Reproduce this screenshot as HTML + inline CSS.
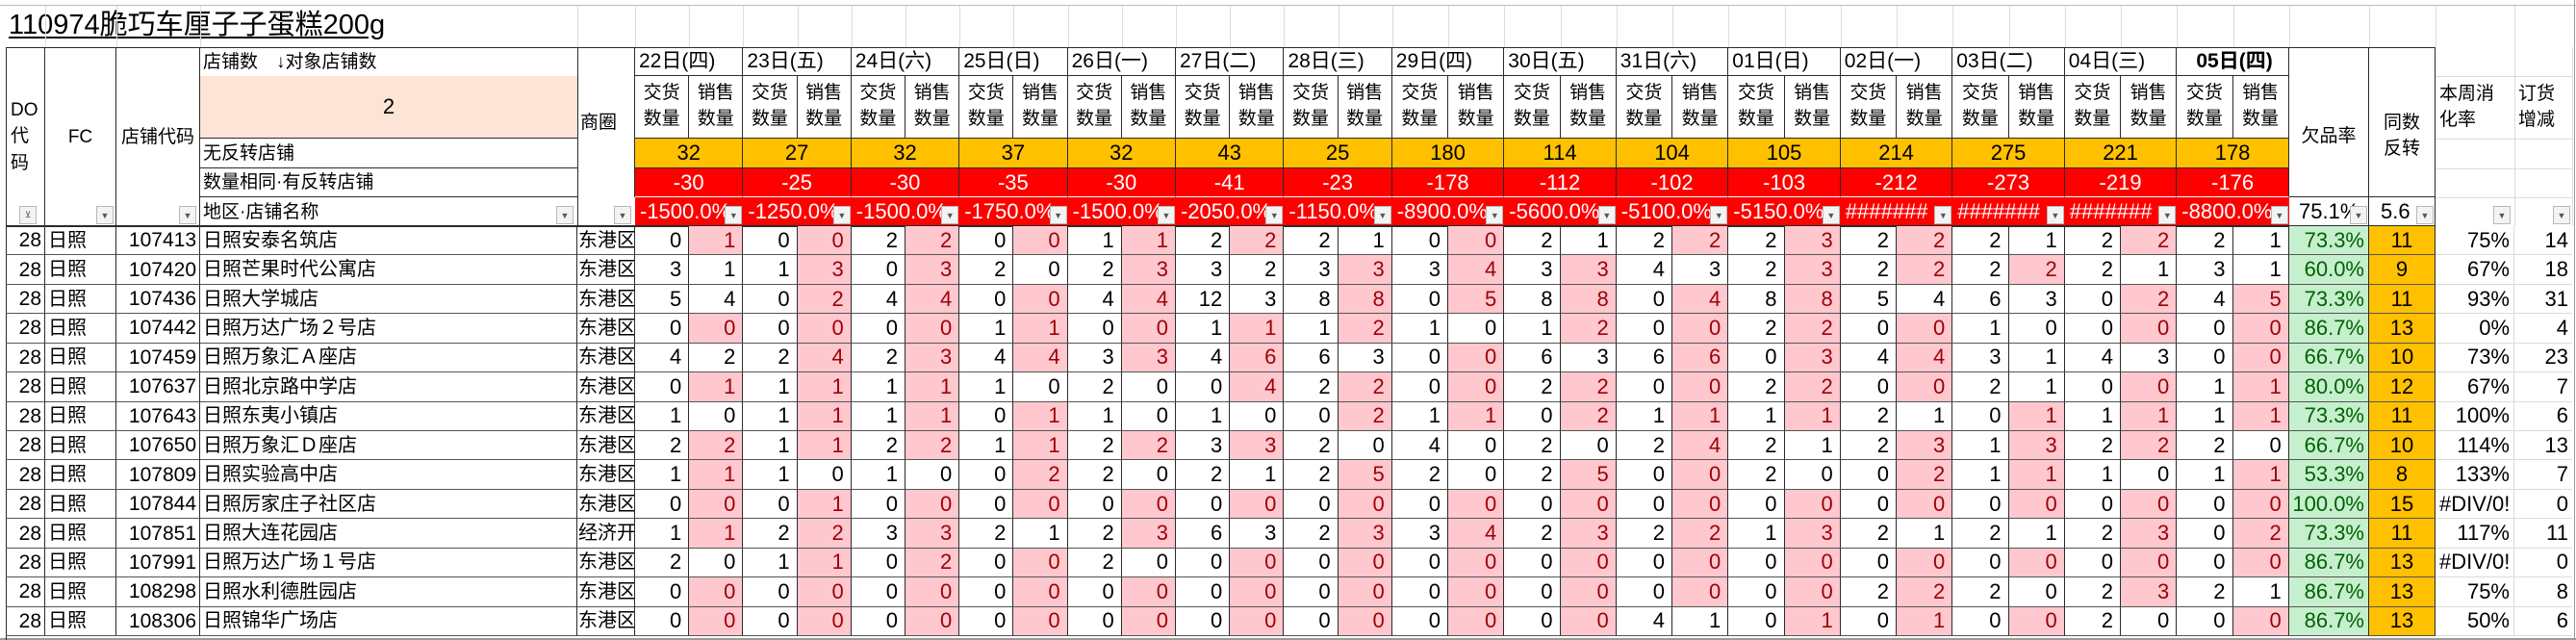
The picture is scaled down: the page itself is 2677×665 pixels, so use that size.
<!DOCTYPE html>
<html><head><meta charset="utf-8">
<style>
html,body{margin:0;padding:0;background:#fff;}
#sheet{position:relative;width:2677px;height:665px;overflow:hidden;background:#fff;
font-family:"Liberation Sans","Noto Sans CJK SC",sans-serif;font-size:19px;color:#000;}
.c{position:absolute;box-sizing:border-box;display:flex;align-items:center;white-space:nowrap;overflow:hidden;line-height:1;}
.ln{position:absolute;}
.dd{position:absolute;box-sizing:border-box;width:18px;height:19px;background:#f3f3f3;border:1px solid #b8b8b8;
font-size:9px;color:#555;display:flex;align-items:center;justify-content:center;}
</style></head>
<body>
<div id="sheet">
  <div class="c" style="left:9px;top:8px;height:36px;font-size:29px;text-decoration:underline;text-underline-offset:3px;">110974脆巧车厘子子蛋糕200g</div>
</div>
<script>
const dayLabels=["22日(四)","23日(五)","24日(六)","25日(日)","26日(一)","27日(二)","28日(三)","29日(四)","30日(五)","31日(六)","01日(日)","02日(一)","03日(二)","04日(三)","05日(四)"];
const noReverse=[32,27,32,37,32,43,25,180,114,104,105,214,275,221,178];
const sameQty=[-30,-25,-30,-35,-30,-41,-23,-178,-112,-102,-103,-212,-273,-219,-176];
const pctLabels=["-1500.0%","-1250.0%","-1500.0%","-1750.0%","-1500.0%","-2050.0%","-1150.0%","-8900.0%","-5600.0%","-5100.0%","-5150.0%","#######","#######","#######","-8800.0%"];
const storeCodes=["107413","107420","107436","107442","107459","107637","107643","107650","107809","107844","107851","107991","108298","108306"];
const storeNames=["日照安泰名筑店","日照芒果时代公寓店","日照大学城店","日照万达广场２号店","日照万象汇Ａ座店","日照北京路中学店","日照东夷小镇店","日照万象汇Ｄ座店","日照实验高中店","日照厉家庄子社区店","日照大连花园店","日照万达广场１号店","日照水利德胜园店","日照锦华广场店"];
const areas=["东港区","东港区","东港区","东港区","东港区","东港区","东港区","东港区","东港区","东港区","经济开","东港区","东港区","东港区"];
const deliveries=[
[0,3,5,0,4,0,1,2,1,0,1,2,0,0],
[0,1,0,0,2,1,1,1,1,0,2,1,0,0],
[2,0,4,0,2,1,1,2,1,0,3,0,0,0],
[0,2,0,1,4,1,0,1,0,0,2,0,0,0],
[1,2,4,0,3,2,1,2,2,0,2,2,0,0],
[2,3,12,1,4,0,1,3,2,0,6,0,0,0],
[2,3,8,1,6,2,0,2,2,0,2,0,0,0],
[0,3,0,1,0,0,1,4,2,0,3,0,0,0],
[2,3,8,1,6,2,0,2,2,0,2,0,0,0],
[2,4,0,0,6,0,1,2,0,0,2,0,0,4],
[2,2,8,2,0,2,1,2,2,0,1,0,0,0],
[2,2,5,0,4,0,2,2,0,0,2,0,2,0],
[2,2,6,1,3,2,0,1,1,0,2,0,2,0],
[2,2,0,0,4,0,1,2,1,0,2,0,2,2],
[2,3,4,0,0,1,1,2,1,0,0,0,2,0]];
const sales=[
[1,1,4,0,2,1,0,2,1,0,1,0,0,0],
[0,3,2,0,4,1,1,1,0,1,2,1,0,0],
[2,3,4,0,3,1,1,2,0,0,3,2,0,0],
[0,0,0,1,4,0,1,1,2,0,1,0,0,0],
[1,3,4,0,3,0,0,2,0,0,3,0,0,0],
[2,2,3,1,6,4,0,3,1,0,3,0,0,0],
[1,3,8,2,3,2,2,0,5,0,3,0,0,0],
[0,4,5,0,0,0,1,0,0,0,4,0,0,0],
[1,3,8,2,3,2,2,0,5,0,3,0,0,0],
[2,3,4,0,6,0,1,4,0,0,2,0,0,1],
[3,3,8,2,3,2,1,1,0,0,3,0,0,1],
[2,2,4,0,4,0,1,3,2,0,1,0,2,1],
[1,2,3,0,1,1,1,3,1,0,1,0,0,0],
[2,1,2,0,3,0,1,2,0,0,3,0,3,0],
[1,1,5,0,0,1,1,0,1,0,2,0,1,0]];
const shortRate=["73.3%","60.0%","73.3%","86.7%","66.7%","80.0%","73.3%","66.7%","53.3%","100.0%","73.3%","86.7%","86.7%","86.7%"];
const sameReverse=[11,9,11,13,10,12,11,10,8,15,11,13,13,13];
const digestRate=["75%","67%","93%","0%","73%","67%","100%","114%","133%","#DIV/0!","117%","#DIV/0!","75%","50%"];
const orderDelta=[14,18,31,4,23,7,6,13,7,0,11,0,8,6];

const S=document.getElementById('sheet');
const BK='1px solid #2b2b2b';
const NF='font-size:22px;';
function mk(x,y,w,h,txt,st){
  const d=document.createElement('div');
  d.className='c';
  d.style.cssText+=`left:${x}px;top:${y}px;width:${w}px;height:${h}px;`+(st||'');
  d.textContent=txt;
  S.appendChild(d);
  return d;
}
function line(x,y,w,h,col){
  const d=document.createElement('div');
  d.className='ln';
  
  
  d.style.cssText=`left:${x}px;top:${y}px;width:${w}px;height:${h}px;background:${col};`;
  S.appendChild(d);
}
function dd(x,y,glyph){
  const d=document.createElement('div');
  d.className='dd';
  
  
  d.style.left=x+'px';d.style.top=y+'px';
  d.textContent=glyph||'▼';
  S.appendChild(d);
}
const Y0=49,Y1=79,Y2=144,Y3=175,Y4=205,Y5=235,RH=30.43;
const dayX=[];let x=660;
for(let i=0;i<dayLabels.length;i++){dayX.push(x);x+=(i<7?112.4:116.5);}
dayX.push(x);
const cQ=[2379,2462],cT=[2462,2531],cX=[2531,2613],cD=[2613,2673];
function dw(i){return dayX[i+1]-dayX[i];}

const lightCols=[47,121,208,600,660];
dayX.forEach((dx,i)=>{lightCols.push(dx);if(i<dayLabels.length)lightCols.push(dx+dw(i)/2);});
lightCols.push(2462,2531,2613);
lightCols.forEach(v=>line(v,6,1,43,'#dcdcdc'));
line(0,5,2677,1,'#bdbdbd');
line(2675,0,1,665,'#9a9a9a');
line(0,663,2677,2,'#9a9a9a');

let e;
e=mk(6,Y0,41,Y5-Y0,'DO\n代\n码','border-right:'+BK+';white-space:pre;flex-direction:column;justify-content:center;align-items:flex-start;padding-left:5px;line-height:1.45;font-size:19px;');


e=mk(47,Y0,74,Y5-Y0,'FC','border-right:'+BK+';justify-content:center;');


e=mk(121,Y0,87,Y5-Y0,'店铺代码','border-right:'+BK+';justify-content:center;');


e=mk(208,Y0,392,Y1-Y0,'店铺数　↓对象店铺数','padding-left:3px;font-size:19px;');


e=mk(208,Y1,392,Y2-Y1,'2','background:#fce4d6;justify-content:center;border-bottom:'+BK+';font-size:22px;');


e=mk(208,Y2,392,Y3-Y2,'无反转店铺','padding-left:3px;border-bottom:'+BK+';');


e=mk(208,Y3,392,Y4-Y3,'数量相同·有反转店铺','padding-left:3px;border-bottom:'+BK+';');


e=mk(208,Y4,392,Y5-Y4,'地区·店铺名称','padding-left:3px;');


e=mk(600,Y0,60,Y4-Y0,'商圈','padding-left:2px;border-left:'+BK+';border-right:'+BK+';');


line(600,Y4,1,Y5-Y4,'#2b2b2b');
line(6,Y0,2525,1,'#2b2b2b');
line(6,Y0,1,616,'#2b2b2b');
dd(20,214,'⊻');dd(100,214);dd(186,214);dd(578,214);dd(638,214);

dayLabels.forEach((lab,i)=>{
  const dx=dayX[i],w=dw(i),h=w/2;
  let d=mk(dx,Y0,w,Y1-Y0,lab,'padding-left:4px;font-size:21px;border-right:'+BK+';border-bottom:'+BK+';'+(i===dayLabels.length-1?'font-weight:bold;justify-content:center;':''));
  
  
  d=mk(dx,Y1,h,Y2-Y1,'交货\n数量','white-space:pre;justify-content:center;line-height:1.4;border-right:'+BK+';border-bottom:'+BK+';font-size:19px;');
  
  
  d=mk(dx+h,Y1,h,Y2-Y1,'销售\n数量','white-space:pre;justify-content:center;line-height:1.4;border-right:'+BK+';border-bottom:'+BK+';font-size:19px;');
  
  
  d=mk(dx,Y2,w,Y3-Y2,String(noReverse[i]),'background:#ffc000;justify-content:center;border-right:'+BK+';border-bottom:'+BK+';'+NF);
  
  
  d=mk(dx,Y3,w,Y4-Y3,String(sameQty[i]),'background:#ff0000;color:#fff;justify-content:center;border-right:'+BK+';border-bottom:1px solid #fff;'+NF);
  
  
  d=mk(dx,Y4,w,Y5-Y4,pctLabels[i],'background:#ff0000;color:#fff;padding-left:5px;'+NF);
  
  
  dd(dx+w-19,214);
});

e=mk(cQ[0],Y0,cQ[1]-cQ[0],Y4-Y0,'欠品率','justify-content:center;border-right:'+BK+';border-bottom:'+BK+';padding-top:30px;');


e=mk(cT[0],Y0,cT[1]-cT[0],Y4-Y0,'同数\n反转','white-space:pre;justify-content:center;line-height:1.4;border-right:'+BK+';border-bottom:'+BK+';padding-top:30px;');


e=mk(cX[0]+4,Y1,cX[1]-cX[0],Y2-Y1,'本周消\n化率','white-space:pre;line-height:1.4;font-size:19px;');


e=mk(cD[0]+4,Y1,cD[1]-cD[0],Y2-Y1,'订货\n增减','white-space:pre;line-height:1.4;font-size:19px;');


e=mk(cQ[0],Y4,cQ[1]-cQ[0],Y5-Y4,'75.1%','padding-left:10px;border-right:'+BK+';'+NF);


e=mk(cT[0],Y4,cT[1]-cT[0],Y5-Y4,'5.6','padding-left:12px;border-right:'+BK+';'+NF);


dd(cQ[1]-20,214);dd(cT[1]-20,214);dd(cX[1]-22,214);dd(cD[1]-20,214);
[Y1,Y2,Y3,Y4].forEach(v=>line(cX[0],v,cD[1]-cX[0],1,'#dcdcdc'));
line(cX[1],Y0,1,Y5-Y0,'#dcdcdc');line(cD[1],Y0,1,Y5-Y0,'#dcdcdc');
line(6,Y5-1,2525,2,'#2b2b2b');

storeCodes.forEach((code,r)=>{
  const y=Y5+r*RH,h=RH;
  const bb='border-bottom:1px solid #555;';
  let d=mk(6,y,41,h,'28','justify-content:flex-end;padding-right:3px;border-right:'+BK+';'+bb+'font-size:21px;');
  
  
  d=mk(47,y,74,h,'日照','padding-left:3px;border-right:'+BK+';'+bb+'font-size:20px;');
  
  
  d=mk(121,y,87,h,code,'justify-content:flex-end;padding-right:3px;border-right:'+BK+';'+bb+'font-size:21px;');
  
  
  d=mk(208,y,392,h,storeNames[r],'padding-left:3px;border-right:'+BK+';'+bb+'font-size:20px;');
  
  
  d=mk(600,y,60,h,areas[r],'padding-left:1px;border-right:'+BK+';'+bb+'font-size:20px;');
  
  
  dayLabels.forEach((_,i)=>{
    const dx=dayX[i],hw=dw(i)/2;
    const dv=deliveries[i][r],sv=sales[i][r];
    let c=mk(dx,y,hw,h,String(dv),'justify-content:flex-end;padding-right:7px;border-right:'+BK+';'+bb+NF);
    
    
    const pink=sv>=dv;
    c=mk(dx+hw,y,hw,h,String(sv),'justify-content:flex-end;padding-right:7px;border-right:'+BK+';'+bb+NF+(pink?'background:#ffc7ce;color:#9c0006;':''));
    
    
  });
  d=mk(cQ[0],y,cQ[1]-cQ[0],h,shortRate[r],'justify-content:flex-end;padding-right:4px;background:#c6efce;color:#006100;border-right:'+BK+';'+bb+NF);
  
  
  d=mk(cT[0],y,cT[1]-cT[0],h,String(sameReverse[r]),'justify-content:center;background:#ffc000;border-right:'+BK+';'+bb+NF);
  
  
  d=mk(cX[0],y,cX[1]-cX[0],h,digestRate[r],(digestRate[r][0]==='#'?'padding-left:4px;':'justify-content:flex-end;padding-right:4px;')+'border-right:1px solid #dcdcdc;border-bottom:1px solid #dcdcdc;'+NF);
  
  
  d=mk(cD[0],y,cD[1]-cD[0],h,String(orderDelta[r]),'justify-content:flex-end;padding-right:4px;border-bottom:1px solid #dcdcdc;'+NF);
  
  
});
</script>
</body></html>
